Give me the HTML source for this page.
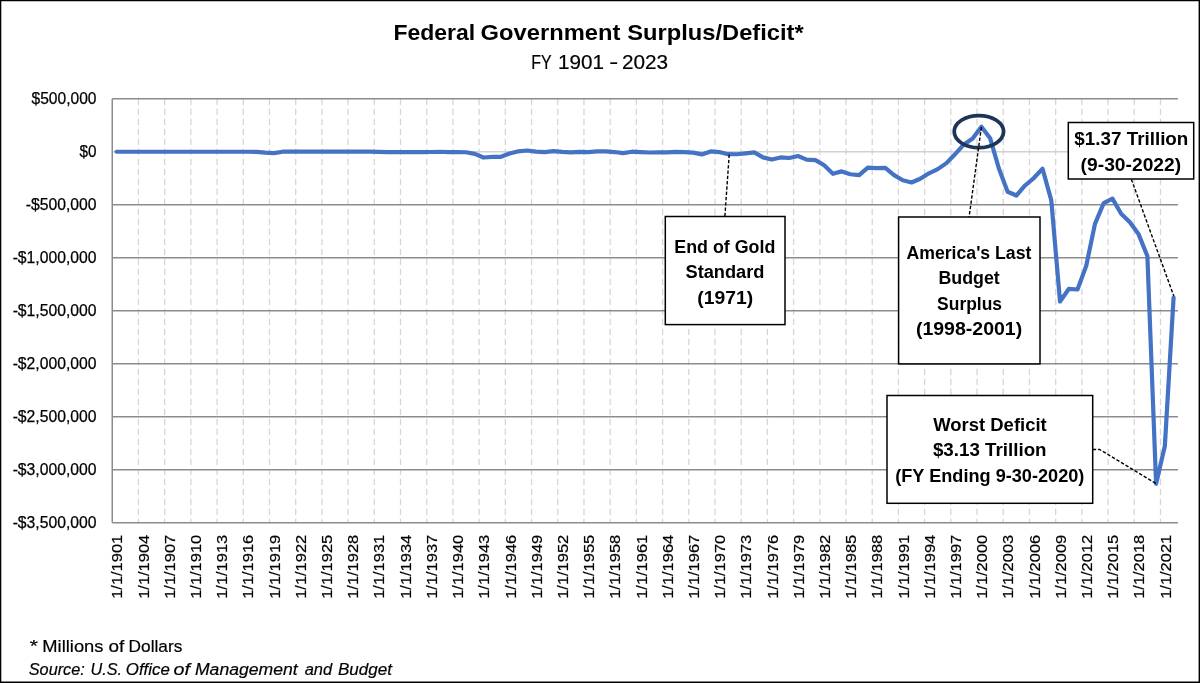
<!DOCTYPE html>
<html lang="en"><head><meta charset="utf-8"><title>Federal Government Surplus/Deficit</title>
<style>html,body{margin:0;padding:0;background:#fff;}body{width:1200px;height:683px;overflow:hidden;}svg{display:block;}text{font-family:"Liberation Sans", sans-serif;fill:#000;}</style>
</head><body>
<svg width="1200" height="683" viewBox="0 0 1200 683">
<rect x="0" y="0" width="1200" height="683" fill="#fff"/>
<g stroke="#d6d6d6" stroke-width="1.3" stroke-dasharray="6.3 3.7" fill="none">
<line x1="138.46" y1="98.75" x2="138.46" y2="522.75"/>
<line x1="164.66" y1="98.75" x2="164.66" y2="522.75"/>
<line x1="190.87" y1="98.75" x2="190.87" y2="522.75"/>
<line x1="217.07" y1="98.75" x2="217.07" y2="522.75"/>
<line x1="243.28" y1="98.75" x2="243.28" y2="522.75"/>
<line x1="269.48" y1="98.75" x2="269.48" y2="522.75"/>
<line x1="295.69" y1="98.75" x2="295.69" y2="522.75"/>
<line x1="321.90" y1="98.75" x2="321.90" y2="522.75"/>
<line x1="348.10" y1="98.75" x2="348.10" y2="522.75"/>
<line x1="374.31" y1="98.75" x2="374.31" y2="522.75"/>
<line x1="400.51" y1="98.75" x2="400.51" y2="522.75"/>
<line x1="426.72" y1="98.75" x2="426.72" y2="522.75"/>
<line x1="452.92" y1="98.75" x2="452.92" y2="522.75"/>
<line x1="479.13" y1="98.75" x2="479.13" y2="522.75"/>
<line x1="505.34" y1="98.75" x2="505.34" y2="522.75"/>
<line x1="531.54" y1="98.75" x2="531.54" y2="522.75"/>
<line x1="557.75" y1="98.75" x2="557.75" y2="522.75"/>
<line x1="583.95" y1="98.75" x2="583.95" y2="522.75"/>
<line x1="610.16" y1="98.75" x2="610.16" y2="522.75"/>
<line x1="636.36" y1="98.75" x2="636.36" y2="522.75"/>
<line x1="662.57" y1="98.75" x2="662.57" y2="522.75"/>
<line x1="688.78" y1="98.75" x2="688.78" y2="522.75"/>
<line x1="714.98" y1="98.75" x2="714.98" y2="522.75"/>
<line x1="741.19" y1="98.75" x2="741.19" y2="522.75"/>
<line x1="767.39" y1="98.75" x2="767.39" y2="522.75"/>
<line x1="793.60" y1="98.75" x2="793.60" y2="522.75"/>
<line x1="819.80" y1="98.75" x2="819.80" y2="522.75"/>
<line x1="846.01" y1="98.75" x2="846.01" y2="522.75"/>
<line x1="872.22" y1="98.75" x2="872.22" y2="522.75"/>
<line x1="898.42" y1="98.75" x2="898.42" y2="522.75"/>
<line x1="924.63" y1="98.75" x2="924.63" y2="522.75"/>
<line x1="950.83" y1="98.75" x2="950.83" y2="522.75"/>
<line x1="977.04" y1="98.75" x2="977.04" y2="522.75"/>
<line x1="1003.25" y1="98.75" x2="1003.25" y2="522.75"/>
<line x1="1029.45" y1="98.75" x2="1029.45" y2="522.75"/>
<line x1="1055.66" y1="98.75" x2="1055.66" y2="522.75"/>
<line x1="1081.86" y1="98.75" x2="1081.86" y2="522.75"/>
<line x1="1108.07" y1="98.75" x2="1108.07" y2="522.75"/>
<line x1="1134.27" y1="98.75" x2="1134.27" y2="522.75"/>
<line x1="1160.48" y1="98.75" x2="1160.48" y2="522.75"/>
</g>
<g stroke="#8c8c8c" stroke-width="1.5" fill="none">
<line x1="112.25" y1="98.75" x2="1177.95" y2="98.75"/>
<line x1="112.25" y1="151.75" x2="1177.95" y2="151.75" stroke="#d2d2d2"/>
<line x1="112.25" y1="204.75" x2="1177.95" y2="204.75"/>
<line x1="112.25" y1="257.75" x2="1177.95" y2="257.75"/>
<line x1="112.25" y1="310.75" x2="1177.95" y2="310.75"/>
<line x1="112.25" y1="363.75" x2="1177.95" y2="363.75"/>
<line x1="112.25" y1="416.75" x2="1177.95" y2="416.75"/>
<line x1="112.25" y1="469.75" x2="1177.95" y2="469.75"/>
<line x1="112.25" y1="522.75" x2="1177.95" y2="522.75"/>
<line x1="112.25" y1="98.75" x2="112.25" y2="522.75"/>
</g>
<polyline points="116.62,151.74 125.35,151.74 134.09,151.75 142.82,151.75 151.56,151.75 160.29,151.75 169.03,151.74 177.76,151.76 186.50,151.76 195.23,151.75 203.97,151.75 212.71,151.75 221.44,151.75 230.18,151.75 238.91,151.76 247.65,151.74 256.38,151.84 265.12,152.71 273.85,153.17 282.59,151.72 291.32,151.70 300.06,151.67 308.79,151.67 317.53,151.65 326.26,151.67 335.00,151.66 343.73,151.63 352.47,151.65 361.20,151.67 369.94,151.67 378.68,151.80 387.41,152.04 396.15,152.03 404.88,152.13 413.62,152.05 422.35,152.21 431.09,151.98 439.82,151.76 448.56,152.05 457.29,152.06 466.03,152.27 474.76,153.92 483.50,157.53 492.23,156.79 500.97,156.79 509.70,153.44 518.44,151.32 527.17,150.50 535.91,151.69 544.64,152.08 553.38,151.10 562.12,151.91 570.85,152.44 579.59,151.87 588.32,152.07 597.06,151.33 605.79,151.39 614.53,152.04 623.26,153.11 632.00,151.72 640.73,152.10 649.47,152.51 658.20,152.25 666.94,152.38 675.67,151.90 684.41,152.14 693.14,152.67 701.88,154.42 710.61,151.41 719.35,152.05 728.08,154.19 736.82,154.23 745.56,153.33 754.29,152.40 763.03,157.39 771.76,159.57 780.50,157.44 789.23,158.02 797.97,156.07 806.70,159.58 815.44,160.12 824.17,165.32 832.91,173.78 841.64,171.40 850.38,174.25 859.11,175.20 867.85,167.62 876.58,168.20 885.32,167.93 894.05,175.18 902.79,180.29 911.53,182.52 920.26,178.79 929.00,173.29 937.73,169.13 946.47,163.14 955.20,154.07 963.94,144.41 972.67,138.44 981.41,126.71 990.14,138.16 998.88,168.47 1007.61,191.77 1016.35,195.50 1025.08,185.49 1033.82,178.06 1042.55,168.78 1051.29,200.36 1060.02,301.49 1068.76,288.95 1077.49,289.51 1086.23,265.87 1094.97,223.81 1103.70,203.14 1112.44,198.60 1121.17,213.72 1129.91,222.29 1138.64,234.34 1147.38,256.01 1156.11,483.79 1164.85,445.94 1173.58,297.59" fill="none" stroke="#4472c4" stroke-width="4.2" stroke-linejoin="round" stroke-linecap="round"/>
<text x="31.50" y="104.05" font-size="16" textLength="65.01" lengthAdjust="spacingAndGlyphs" stroke="#000" stroke-width="0.25">$500,000</text>
<text x="79.54" y="157.05" font-size="16" textLength="16.95" lengthAdjust="spacingAndGlyphs" stroke="#000" stroke-width="0.25">$0</text>
<text x="25.69" y="210.05" font-size="16" textLength="70.82" lengthAdjust="spacingAndGlyphs" stroke="#000" stroke-width="0.25">-$500,000</text>
<text x="12.63" y="263.05" font-size="16" textLength="83.88" lengthAdjust="spacingAndGlyphs" stroke="#000" stroke-width="0.25">-$1,000,000</text>
<text x="12.63" y="316.05" font-size="16" textLength="83.88" lengthAdjust="spacingAndGlyphs" stroke="#000" stroke-width="0.25">-$1,500,000</text>
<text x="12.63" y="369.05" font-size="16" textLength="83.88" lengthAdjust="spacingAndGlyphs" stroke="#000" stroke-width="0.25">-$2,000,000</text>
<text x="12.63" y="422.05" font-size="16" textLength="83.88" lengthAdjust="spacingAndGlyphs" stroke="#000" stroke-width="0.25">-$2,500,000</text>
<text x="12.63" y="475.05" font-size="16" textLength="83.88" lengthAdjust="spacingAndGlyphs" stroke="#000" stroke-width="0.25">-$3,000,000</text>
<text x="12.63" y="528.05" font-size="16" textLength="83.88" lengthAdjust="spacingAndGlyphs" stroke="#000" stroke-width="0.25">-$3,500,000</text>
<g font-size="15.5" stroke="#000" stroke-width="0.2">
<text transform="translate(122.42,598.8) rotate(-90)" textLength="64.0" lengthAdjust="spacingAndGlyphs">1/1/1901</text>
<text transform="translate(148.62,598.8) rotate(-90)" textLength="64.0" lengthAdjust="spacingAndGlyphs">1/1/1904</text>
<text transform="translate(174.83,598.8) rotate(-90)" textLength="64.0" lengthAdjust="spacingAndGlyphs">1/1/1907</text>
<text transform="translate(201.03,598.8) rotate(-90)" textLength="64.0" lengthAdjust="spacingAndGlyphs">1/1/1910</text>
<text transform="translate(227.24,598.8) rotate(-90)" textLength="64.0" lengthAdjust="spacingAndGlyphs">1/1/1913</text>
<text transform="translate(253.45,598.8) rotate(-90)" textLength="64.0" lengthAdjust="spacingAndGlyphs">1/1/1916</text>
<text transform="translate(279.65,598.8) rotate(-90)" textLength="64.0" lengthAdjust="spacingAndGlyphs">1/1/1919</text>
<text transform="translate(305.86,598.8) rotate(-90)" textLength="64.0" lengthAdjust="spacingAndGlyphs">1/1/1922</text>
<text transform="translate(332.06,598.8) rotate(-90)" textLength="64.0" lengthAdjust="spacingAndGlyphs">1/1/1925</text>
<text transform="translate(358.27,598.8) rotate(-90)" textLength="64.0" lengthAdjust="spacingAndGlyphs">1/1/1928</text>
<text transform="translate(384.48,598.8) rotate(-90)" textLength="64.0" lengthAdjust="spacingAndGlyphs">1/1/1931</text>
<text transform="translate(410.68,598.8) rotate(-90)" textLength="64.0" lengthAdjust="spacingAndGlyphs">1/1/1934</text>
<text transform="translate(436.89,598.8) rotate(-90)" textLength="64.0" lengthAdjust="spacingAndGlyphs">1/1/1937</text>
<text transform="translate(463.09,598.8) rotate(-90)" textLength="64.0" lengthAdjust="spacingAndGlyphs">1/1/1940</text>
<text transform="translate(489.30,598.8) rotate(-90)" textLength="64.0" lengthAdjust="spacingAndGlyphs">1/1/1943</text>
<text transform="translate(515.50,598.8) rotate(-90)" textLength="64.0" lengthAdjust="spacingAndGlyphs">1/1/1946</text>
<text transform="translate(541.71,598.8) rotate(-90)" textLength="64.0" lengthAdjust="spacingAndGlyphs">1/1/1949</text>
<text transform="translate(567.92,598.8) rotate(-90)" textLength="64.0" lengthAdjust="spacingAndGlyphs">1/1/1952</text>
<text transform="translate(594.12,598.8) rotate(-90)" textLength="64.0" lengthAdjust="spacingAndGlyphs">1/1/1955</text>
<text transform="translate(620.33,598.8) rotate(-90)" textLength="64.0" lengthAdjust="spacingAndGlyphs">1/1/1958</text>
<text transform="translate(646.53,598.8) rotate(-90)" textLength="64.0" lengthAdjust="spacingAndGlyphs">1/1/1961</text>
<text transform="translate(672.74,598.8) rotate(-90)" textLength="64.0" lengthAdjust="spacingAndGlyphs">1/1/1964</text>
<text transform="translate(698.94,598.8) rotate(-90)" textLength="64.0" lengthAdjust="spacingAndGlyphs">1/1/1967</text>
<text transform="translate(725.15,598.8) rotate(-90)" textLength="64.0" lengthAdjust="spacingAndGlyphs">1/1/1970</text>
<text transform="translate(751.36,598.8) rotate(-90)" textLength="64.0" lengthAdjust="spacingAndGlyphs">1/1/1973</text>
<text transform="translate(777.56,598.8) rotate(-90)" textLength="64.0" lengthAdjust="spacingAndGlyphs">1/1/1976</text>
<text transform="translate(803.77,598.8) rotate(-90)" textLength="64.0" lengthAdjust="spacingAndGlyphs">1/1/1979</text>
<text transform="translate(829.97,598.8) rotate(-90)" textLength="64.0" lengthAdjust="spacingAndGlyphs">1/1/1982</text>
<text transform="translate(856.18,598.8) rotate(-90)" textLength="64.0" lengthAdjust="spacingAndGlyphs">1/1/1985</text>
<text transform="translate(882.38,598.8) rotate(-90)" textLength="64.0" lengthAdjust="spacingAndGlyphs">1/1/1988</text>
<text transform="translate(908.59,598.8) rotate(-90)" textLength="64.0" lengthAdjust="spacingAndGlyphs">1/1/1991</text>
<text transform="translate(934.80,598.8) rotate(-90)" textLength="64.0" lengthAdjust="spacingAndGlyphs">1/1/1994</text>
<text transform="translate(961.00,598.8) rotate(-90)" textLength="64.0" lengthAdjust="spacingAndGlyphs">1/1/1997</text>
<text transform="translate(987.21,598.8) rotate(-90)" textLength="64.0" lengthAdjust="spacingAndGlyphs">1/1/2000</text>
<text transform="translate(1013.41,598.8) rotate(-90)" textLength="64.0" lengthAdjust="spacingAndGlyphs">1/1/2003</text>
<text transform="translate(1039.62,598.8) rotate(-90)" textLength="64.0" lengthAdjust="spacingAndGlyphs">1/1/2006</text>
<text transform="translate(1065.82,598.8) rotate(-90)" textLength="64.0" lengthAdjust="spacingAndGlyphs">1/1/2009</text>
<text transform="translate(1092.03,598.8) rotate(-90)" textLength="64.0" lengthAdjust="spacingAndGlyphs">1/1/2012</text>
<text transform="translate(1118.24,598.8) rotate(-90)" textLength="64.0" lengthAdjust="spacingAndGlyphs">1/1/2015</text>
<text transform="translate(1144.44,598.8) rotate(-90)" textLength="64.0" lengthAdjust="spacingAndGlyphs">1/1/2018</text>
<text transform="translate(1170.65,598.8) rotate(-90)" textLength="64.0" lengthAdjust="spacingAndGlyphs">1/1/2021</text>
</g>
<text y="39.80" font-size="22.2" font-weight="bold"><tspan x="393.46" textLength="81.77" lengthAdjust="spacingAndGlyphs">Federal</tspan> <tspan x="480.63" textLength="139.66" lengthAdjust="spacingAndGlyphs">Government</tspan> <tspan x="627.32" textLength="176.31" lengthAdjust="spacingAndGlyphs">Surplus/Deficit*</tspan></text>
<text y="68.60" font-size="19.8" stroke="#000" stroke-width="0.2"><tspan x="531.31" textLength="20.03" lengthAdjust="spacingAndGlyphs">FY</tspan> <tspan x="558.03" textLength="45.98" lengthAdjust="spacingAndGlyphs">1901</tspan> <tspan x="609.20" textLength="9.00" lengthAdjust="spacingAndGlyphs">-</tspan> <tspan x="621.96" textLength="46.16" lengthAdjust="spacingAndGlyphs">2023</tspan></text>
<text y="651.60" font-size="17.4" stroke="#000" stroke-width="0.2"><tspan x="29.66" textLength="8.17" lengthAdjust="spacingAndGlyphs">*</tspan> <tspan x="42.30" textLength="61.17" lengthAdjust="spacingAndGlyphs">Millions</tspan> <tspan x="108.41" textLength="15.77" lengthAdjust="spacingAndGlyphs">of</tspan> <tspan x="128.58" textLength="53.74" lengthAdjust="spacingAndGlyphs">Dollars</tspan></text>
<text y="674.80" font-size="17.4" font-style="italic" stroke="#000" stroke-width="0.2"><tspan x="28.74" textLength="56.11" lengthAdjust="spacingAndGlyphs">Source:</tspan> <tspan x="90.49" textLength="31.49" lengthAdjust="spacingAndGlyphs">U.S.</tspan> <tspan x="125.79" textLength="44.04" lengthAdjust="spacingAndGlyphs">Office</tspan> <tspan x="173.56" textLength="16.44" lengthAdjust="spacingAndGlyphs">of</tspan> <tspan x="194.96" textLength="102.63" lengthAdjust="spacingAndGlyphs">Management</tspan> <tspan x="304.73" textLength="27.44" lengthAdjust="spacingAndGlyphs">and</tspan> <tspan x="337.98" textLength="54.03" lengthAdjust="spacingAndGlyphs">Budget</tspan></text>
<ellipse cx="978.9" cy="131.6" rx="24.7" ry="16.1" fill="none" stroke="#1f3459" stroke-width="3.75"/>
<g stroke="#000" stroke-width="1.4" stroke-dasharray="3.4 1.9" fill="none">
<line x1="729.2" y1="154.6" x2="724.9" y2="216.2"/>
<line x1="981.4" y1="127" x2="969.1" y2="217"/>
<line x1="1131.4" y1="179.4" x2="1173.8" y2="296"/>
<polyline points="1092.8,449.5 1099.6,449.5 1156,483.5"/>
</g>
<rect x="665.30" y="216.50" width="119.70" height="108.10" fill="#fff" stroke="#000" stroke-width="1.5"/>
<rect x="898.60" y="217.00" width="141.40" height="146.90" fill="#fff" stroke="#000" stroke-width="1.5"/>
<rect x="1068.30" y="122.50" width="125.40" height="56.50" fill="#fff" stroke="#000" stroke-width="1.5"/>
<rect x="887.00" y="395.50" width="205.70" height="107.80" fill="#fff" stroke="#000" stroke-width="1.5"/>
<text x="674.31" y="252.50" font-size="18" font-weight="bold" textLength="101.07" lengthAdjust="spacingAndGlyphs">End of Gold</text>
<text x="685.47" y="278.20" font-size="18" font-weight="bold" textLength="79.03" lengthAdjust="spacingAndGlyphs">Standard</text>
<text x="697.34" y="303.50" font-size="18" font-weight="bold" textLength="55.82" lengthAdjust="spacingAndGlyphs">(1971)</text>
<text x="906.46" y="258.70" font-size="18" font-weight="bold" textLength="124.96" lengthAdjust="spacingAndGlyphs">America's Last</text>
<text x="938.51" y="284.30" font-size="18" font-weight="bold" textLength="61.31" lengthAdjust="spacingAndGlyphs">Budget</text>
<text x="937.10" y="309.60" font-size="18" font-weight="bold" textLength="64.92" lengthAdjust="spacingAndGlyphs">Surplus</text>
<text x="915.93" y="335.30" font-size="18" font-weight="bold" textLength="106.24" lengthAdjust="spacingAndGlyphs">(1998-2001)</text>
<text x="1074.35" y="145.10" font-size="18" font-weight="bold" textLength="114.02" lengthAdjust="spacingAndGlyphs">$1.37 Trillion</text>
<text x="1080.64" y="170.80" font-size="18" font-weight="bold" textLength="100.52" lengthAdjust="spacingAndGlyphs">(9-30-2022)</text>
<text x="933.18" y="430.70" font-size="18" font-weight="bold" textLength="113.54" lengthAdjust="spacingAndGlyphs">Worst Deficit</text>
<text x="932.95" y="456.00" font-size="18" font-weight="bold" textLength="113.61" lengthAdjust="spacingAndGlyphs">$3.13 Trillion</text>
<text x="895.20" y="481.70" font-size="18" font-weight="bold" textLength="189.21" lengthAdjust="spacingAndGlyphs">(FY Ending 9-30-2020)</text>
<path d="M0 0H1200V683H0Z M1.3 1.3V681.6H1198.6V1.3Z" fill="#000" fill-rule="evenodd"/>
</svg></body></html>
